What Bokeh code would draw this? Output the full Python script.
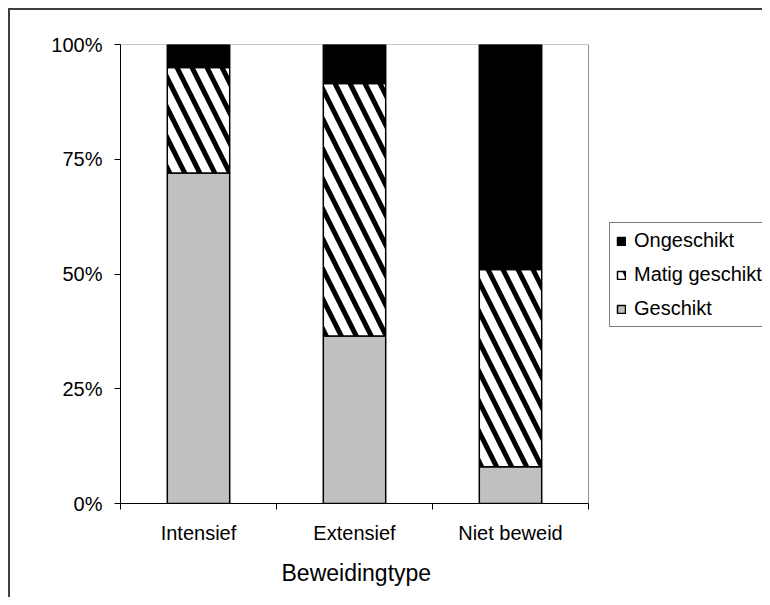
from bokeh.plotting import figure
from bokeh.models import (ColumnDataSource, Range1d, FixedTicker, NumeralTickFormatter,
                          Legend, LegendItem, Title)
from bokeh.embed import file_html
from bokeh.resources import INLINE

categories = ["Intensief", "Extensief", "Niet beweid"]
geschikt = [0.72, 0.365, 0.08]
matig_geschikt = [0.23, 0.55, 0.43]
ongeschikt = [0.05, 0.085, 0.49]
series_names = ["Geschikt", "Matig geschikt", "Ongeschikt"]
y_ticks = [0, 0.25, 0.5, 0.75, 1.0]
x_title = "Beweidingtype"

FONT = "Liberation Sans"
N = len(categories)

xpos = [i + 0.5 for i in range(N)]
source = ColumnDataSource(dict(x=xpos, Geschikt=geschikt,
                               **{"Matig geschikt": matig_geschikt},
                               Ongeschikt=ongeschikt))

W, H = 762, 597
PL, PT, PW, PH = 120, 44, 468, 459          # plot area in canvas pixels
x_end = N * (W - PL) / PW                     # frame extends to the right edge

p = figure(width=W, height=H, output_backend="svg", toolbar_location=None,
           x_range=Range1d(0, x_end), y_range=Range1d(0, 1),
           min_border_left=PL, min_border_top=PT,
           min_border_right=0, min_border_bottom=H - PT - PH)
p.border_fill_alpha = 0
p.styles = {
    "background": ("linear-gradient(#404040,#404040) 8px 8px / 2px calc(100% - 8px) no-repeat, "
                   "linear-gradient(#404040,#404040) 8px 8px / calc(100% - 8px) 2px no-repeat, "
                   "white")
}
p.outline_line_color = None
p.background_fill_color = "white"
p.xgrid.visible = False
p.ygrid.visible = False

# plot-area border (top and right), grey like the reference
p.line(x=[0, N, N], y=[1, 1, 0], line_color="#909090", line_width=1)

renderers = p.vbar_stack(series_names, x="x", width=0.4, source=source,
                         fill_color=["#C0C0C0", "white", "black"],
                         line_color="black", line_width=1.5,
                         hatch_pattern=[" ", "\\", " "],
                         hatch_color="black", hatch_scale=30, hatch_weight=5)

# x axis
p.xaxis.bounds = (0, N)
p.xaxis.ticker = FixedTicker(ticks=xpos, minor_ticks=list(range(N + 1)))
p.xaxis.major_label_overrides = {x: c for x, c in zip(xpos, categories)}
p.xaxis.major_tick_out = 0
p.xaxis.major_tick_in = 0
p.xaxis.minor_tick_out = 6
p.xaxis.minor_tick_in = 0
p.xaxis.minor_tick_line_color = "black"
p.xaxis.axis_line_color = "black"
p.xaxis.major_label_standoff = 12

# x axis title, centred under the plot area
p.add_layout(Title(text=x_title, align="left", offset=161, standoff=22,
                   text_font=FONT, text_font_size="23px", text_font_style="normal",
                   text_color="black"), "below")

# y axis
p.yaxis.ticker = FixedTicker(ticks=y_ticks, minor_ticks=[])
p.yaxis.formatter = NumeralTickFormatter(format="0%")
p.yaxis.major_tick_out = 6
p.yaxis.major_tick_in = 0
p.yaxis.major_tick_line_color = "black"
p.yaxis.axis_line_color = "black"
p.yaxis.major_label_standoff = 12

for ax in (p.xaxis, p.yaxis):
    ax.major_label_text_font = FONT
    ax.major_label_text_font_size = "20px"
    ax.major_label_text_color = "black"

items = [LegendItem(label=name, renderers=[r])
         for name, r in zip(series_names, renderers)][::-1]
legend = Legend(items=items, location=(489, 176), orientation="vertical",
                border_line_color="black", border_line_width=1,
                background_fill_color="white", background_fill_alpha=1,
                label_text_font=FONT, label_text_font_size="20px",
                label_text_color="black",
                glyph_width=10, glyph_height=10, label_height=20,
                label_standoff=8, spacing=11, padding=6, margin=0)
p.add_layout(legend, "center")

open("out.html", "w").write(file_html(p, INLINE))
